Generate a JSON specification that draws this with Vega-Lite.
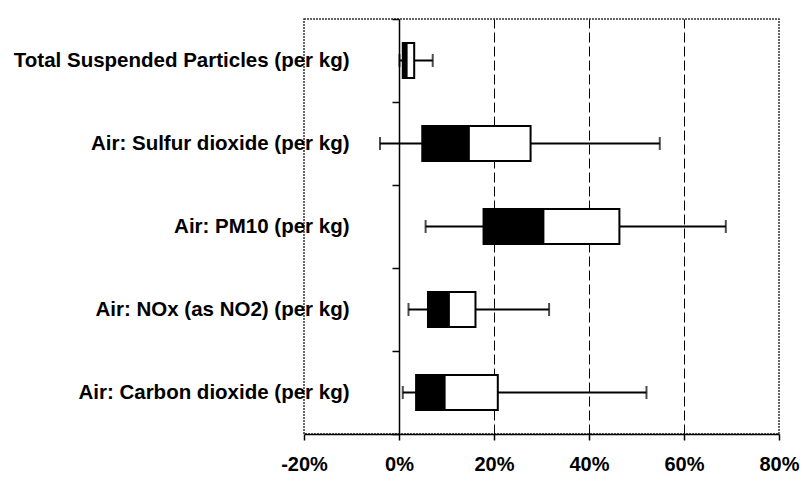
{
  "$schema": "https://vega.github.io/schema/vega-lite/v6.json",
  "autosize": "none",
  "width": 475,
  "height": 415,
  "padding": {"left": 304, "top": 19, "right": 29, "bottom": 67},
  "background": "white",
  "config": {
    "font": "Liberation Sans",
    "view": {"stroke": "#333333", "strokeWidth": 1.5, "strokeDash": [2, 1]}
  },
  "data": {
    "values": [
      {"cat": "Total Suspended Particles (per kg)", "min": 0.001, "q1": 0.008, "med": 0.016, "q3": 0.032, "max": 0.071},
      {"cat": "Air: Sulfur dioxide (per kg)", "min": -0.040, "q1": 0.049, "med": 0.147, "q3": 0.277, "max": 0.549},
      {"cat": "Air: PM10 (per kg)", "min": 0.056, "q1": 0.178, "med": 0.304, "q3": 0.464, "max": 0.688},
      {"cat": "Air: NOx (as NO2) (per kg)", "min": 0.020, "q1": 0.061, "med": 0.105, "q3": 0.161, "max": 0.316},
      {"cat": "Air: Carbon dioxide (per kg)", "min": 0.008, "q1": 0.036, "med": 0.096, "q3": 0.208, "max": 0.521}
    ]
  },
  "encoding": {
    "y": {
      "field": "cat",
      "type": "nominal",
      "sort": null,
      "title": null,
      "axis": {
        "offset": -95,
        "domainColor": "black",
        "domainWidth": 1.5,
        "tickBand": "extent",
        "tickColor": "black",
        "tickSize": 7,
        "tickWidth": 1.5,
        "labelPadding": 43,
        "labelFontSize": 20.5,
        "labelFontWeight": "bold",
        "labelColor": "black",
        "labelLimit": 0,
        "grid": false
      }
    }
  },
  "layer": [
    {
      "mark": {"type": "rule", "color": "black", "strokeWidth": 2},
      "encoding": {
        "x": {
          "field": "min",
          "type": "quantitative",
          "title": null,
          "scale": {"domain": [-0.2, 0.8], "nice": false, "zero": false},
          "axis": {
            "values": [-0.2, 0, 0.2, 0.4, 0.6, 0.8],
            "labelExpr": "replace(format(datum.value, '.0%'), '\u2212', '-')",
            "domainColor": "black",
            "domainWidth": 1.5,
            "tickColor": "black",
            "tickSize": 6,
            "tickWidth": 1.5,
            "labelFontSize": 20,
            "labelFontWeight": "bold",
            "labelColor": "black",
            "labelPadding": 14,
            "labelDx": -5,
            "labelFlush": false,
            "grid": true,
            "gridColor": {"condition": {"test": "datum.value <= -0.19 || datum.value >= 0.79", "value": "transparent"}, "value": "black"},
            "gridDash": [10, 4],
            "gridWidth": 1,
            "gridOpacity": 1
          }
        },
        "x2": {"field": "q1"}
      }
    },
    {
      "mark": {"type": "rule", "color": "black", "strokeWidth": 2},
      "encoding": {
        "x": {"field": "q3", "type": "quantitative"},
        "x2": {"field": "max"}
      }
    },
    {
      "mark": {"type": "bar", "fill": "black", "stroke": "black", "strokeWidth": 2, "size": 35},
      "encoding": {
        "x": {"field": "q1", "type": "quantitative"},
        "x2": {"field": "med"}
      }
    },
    {
      "mark": {"type": "bar", "fill": "white", "stroke": "black", "strokeWidth": 2, "size": 35},
      "encoding": {
        "x": {"field": "med", "type": "quantitative"},
        "x2": {"field": "q3"}
      }
    },
    {
      "mark": {"type": "tick", "color": "black", "thickness": 2, "size": 13, "orient": "vertical"},
      "encoding": {
        "x": {"field": "min", "type": "quantitative"}
      }
    },
    {
      "mark": {"type": "tick", "color": "black", "thickness": 2, "size": 13, "orient": "vertical"},
      "encoding": {
        "x": {"field": "max", "type": "quantitative"}
      }
    }
  ]
}
